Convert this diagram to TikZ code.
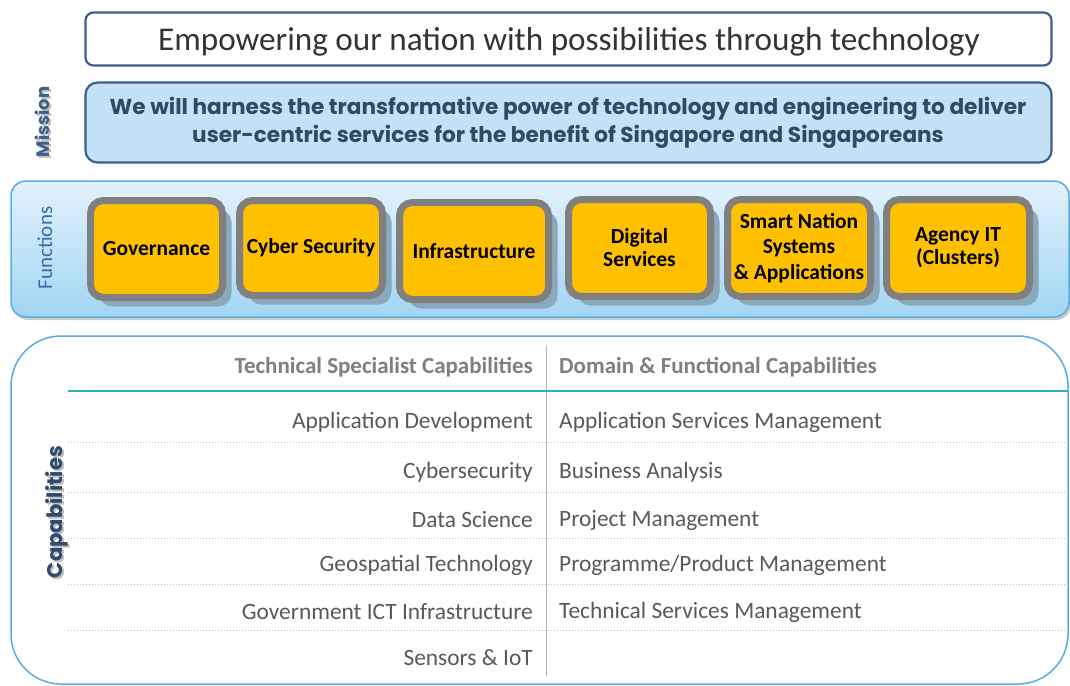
\documentclass[tikz,border=0pt]{standalone}
\usepackage{fontspec}
\setmainfont{Carlito}
\newfontfamily\gothic{Poppins}
\usetikzlibrary{shadows}
\definecolor{frameblue}{HTML}{3E5F8A}
\definecolor{missionfill}{HTML}{C3E2F5}
\definecolor{missiontext}{HTML}{2F4B63}
\definecolor{panelborder}{HTML}{55AEE3}
\definecolor{paneltop}{HTML}{E2F2FC}
\definecolor{panelbot}{HTML}{A2D5F4}
\definecolor{orangefill}{HTML}{FFC000}
\definecolor{boxborder}{HTML}{808080}
\definecolor{boxshadow}{HTML}{8BA9BD}
\definecolor{teal}{HTML}{2AB0C8}
\definecolor{rowtext}{HTML}{595959}
\definecolor{headtext}{HTML}{7F7F7F}
\definecolor{labelblue}{HTML}{3A6AA8}
\definecolor{labeldark}{HTML}{2E4A6E}
\tikzset{
  funcbox/.style={draw=boxborder, line width=7pt, fill=orangefill, rounded corners=13pt,
    align=center, font=\fontsize{21.5}{23}\selectfont\bfseries, text=black, inner sep=0pt,
    drop shadow={shadow xshift=9pt, shadow yshift=-9pt, fill=boxshadow, opacity=1}},
  rowL/.style={anchor=east, text=rowtext, font=\fontsize{23.4}{25}\selectfont, inner sep=0pt},
  rowR/.style={anchor=west, text=rowtext, font=\fontsize{23.4}{25}\selectfont, inner sep=0pt},
  headL/.style={anchor=east, text=headtext, font=\fontsize{23}{25}\selectfont\bfseries, inner sep=0pt},
  headR/.style={anchor=west, text=headtext, font=\fontsize{23}{25}\selectfont\bfseries, inner sep=0pt},
  dotline/.style={draw=black!25, line width=1pt, dotted},
}
\begin{document}
\begin{tikzpicture}[x=1pt,y=-1pt]
\useasboundingbox (0,0) rectangle (1070,685);
% top vision box
\node[draw=frameblue, line width=2.2pt, fill=white, rounded corners=8pt,
  minimum width=966pt, minimum height=53pt, inner sep=0pt] (vision) at (568.5,39) {};
\node[text=black!80, font=\fontsize{33.2}{35}\selectfont, inner sep=0pt] (visiontext) at (569,42)
  {Empowering our nation with possibilities through technology};
% mission box
\node[draw=frameblue, line width=2.2pt, fill=missionfill, rounded corners=12pt,
  minimum width=966pt, minimum height=80pt, inner sep=0pt] (mission) at (568.5,122.5) {};
\node[align=center, inner sep=0pt,
  text=missiontext, font=\gothic\fontsize{21.6}{27.5}\selectfont\bfseries] (missiontext) at (568,123)
  {We will harness the transformative power of technology and engineering to deliver\\
   user-centric services for the benefit of Singapore and Singaporeans};
% mission label
\node[rotate=90, text=black!25, font=\gothic\fontsize{18}{20}\selectfont\bfseries] (mlabshadow) at (44,124) {Mission};
\node[rotate=90, text=frameblue, font=\gothic\fontsize{18}{20}\selectfont\bfseries] (mlab) at (42,122) {Mission};
% functions panel
\fill[black!20, rounded corners=15pt] (13,184) rectangle (1071,320);
\shade[top color=paneltop, bottom color=panelbot, rounded corners=15pt, draw=panelborder, line width=1.5pt]
  (11,181) rectangle (1069,317);
\node[rotate=90, text=labelblue, font=\fontsize{21}{22}\selectfont] (flab) at (45,248) {Functions};
% function boxes
\node[funcbox, minimum width=132pt, minimum height=97pt] (gov) at (156.5,249) {Governance};
\node[funcbox, minimum width=143pt, minimum height=95pt] (cyber) at (311,248) {Cyber Security};
\node[funcbox, minimum width=149pt, minimum height=97pt] (infra) at (474,251) {Infrastructure};
\node[funcbox, minimum width=142pt, minimum height=97pt] (digital) at (639.5,248) {Digital\\Services};
\node[funcbox, minimum width=143pt, minimum height=97pt, font=\fontsize{21.5}{25.5}\selectfont\bfseries] (smart) at (799,248) {Smart Nation\\Systems\\\& Applications};
\node[funcbox, minimum width=143pt, minimum height=97pt] (agency) at (958,248) {Agency IT\\(Clusters)};
% capabilities panel
\draw[draw=panelborder, line width=1.5pt, fill=white, rounded corners=50pt] (11,336) rectangle (1068,684);
\node[rotate=90, text=black!25, font=\gothic\fontsize{21.2}{23}\selectfont\bfseries] (clabshadow) at (59,514) {Capabilities};
\node[rotate=90, text=labeldark, font=\gothic\fontsize{21.2}{23}\selectfont\bfseries] (clab) at (57,512) {Capabilities};
% table lines
\coordinate (divtop) at (546,346);
\coordinate (divbot) at (546,676);
\draw[black!30, line width=1pt] (divtop) -- (divbot);
\coordinate (tealL) at (68,391);
\coordinate (tealR) at (1068,391);
\draw[teal, line width=2pt] (tealL) -- (tealR);
\foreach \yy/\nm in {442/a,492/b,538/c,584/d,630/e}{
  \coordinate (dl\nm) at (68,\yy);
  \coordinate (dr\nm) at (1068,\yy);
  \draw[dotline] (dl\nm) -- (dr\nm);
}
% headers
\node[headL] (hl) at (533,367) {Technical Specialist Capabilities};
\node[headR] (hr) at (559,367) {Domain \& Functional Capabilities};
% rows
\node[rowL] (l1) at (533,422) {Application Development};
\node[rowL] (l2) at (533,472) {Cybersecurity};
\node[rowL] (l3) at (533,520) {Data Science};
\node[rowL] (l4) at (533,565) {Geospatial Technology};
\node[rowL] (l5) at (533,612) {Government ICT Infrastructure};
\node[rowL] (l6) at (533,658) {Sensors \& IoT};
\node[rowR] (r1) at (559,422) {Application Services Management};
\node[rowR] (r2) at (559,472) {Business Analysis};
\node[rowR] (r3) at (559,520) {Project Management};
\node[rowR] (r4) at (559,565) {Programme/Product Management};
\node[rowR] (r5) at (559,612) {Technical Services Management};
\end{tikzpicture}
\end{document}
